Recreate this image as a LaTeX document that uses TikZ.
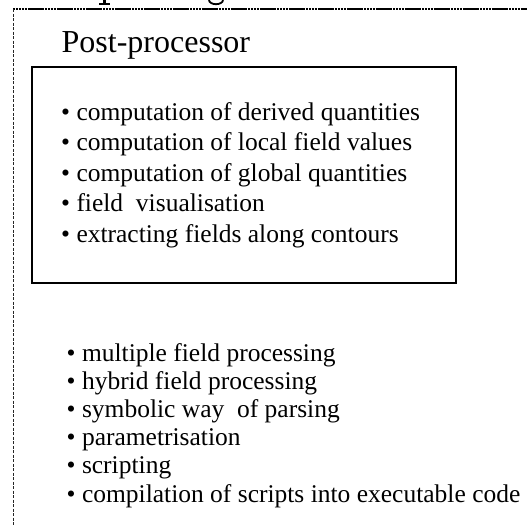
\documentclass[tikz,border=0pt]{standalone}
\usepackage{fontspec}
\setmainfont{Liberation Serif}
\begin{document}
\begin{tikzpicture}[x=1pt,y=-1pt,
  item/.style={anchor=base west,inner sep=0pt,font=\fontsize{25.5}{30}\selectfont},
  heading/.style={anchor=base west,inner sep=0pt,font=\fontsize{32}{36}\selectfont},
  frameline/.style={line width=1.7pt,dash pattern=on 2.4pt off 0.5pt,black},
  sideline/.style={line width=0.9pt,dash pattern=on 3pt off 1.5pt,black!85},
  listbox/.style={draw,line width=2pt,minimum width=424pt,minimum height=216pt,inner sep=0pt}]
\useasboundingbox (0,0) rectangle (527,525);

% outer frame, open to the right and bottom
\coordinate (fr) at (527,9);
\coordinate (fc) at (13,9);
\coordinate (fb) at (13,525);
\draw[frameline] (fc) -- (fr);
\draw[sideline] (fc) -- (fb);

% descender fragments of the heading above the frame
\fill (102.5,0) rectangle (105.5,3.6);
\fill (99,3.4) rectangle (109.5,4.7);
\draw[line width=1.8pt] (209,0) arc[start angle=180,end angle=0,x radius=7pt,y radius=-4.2pt];

% title and boxed list
\node[heading] (title) at (61.5,52) {Post-processor};
\node[listbox] (box) at (244,175) {};

\node[item] (a1) at (61,120)   {• computation of derived quantities};
\node[item] (a2) at (61,150.5) {• computation of local field values};
\node[item] (a3) at (61,181)   {• computation of global quantities};
\node[item] (a4) at (61,211.5) {• field\ \ visualisation};
\node[item] (a5) at (61,242)   {• extracting fields along contours};

% list below the box
\node[item] (b1) at (66.5,361)   {• multiple field processing};
\node[item] (b2) at (66.5,389.2) {• hybrid field processing};
\node[item] (b3) at (66.5,417.4) {• symbolic way\ \ of parsing};
\node[item] (b4) at (66.5,445.6) {• parametrisation};
\node[item] (b5) at (66.5,473.8) {• scripting};
\node[item] (b6) at (66.5,502)   {• compilation of scripts into executable code};
\end{tikzpicture}
\end{document}
